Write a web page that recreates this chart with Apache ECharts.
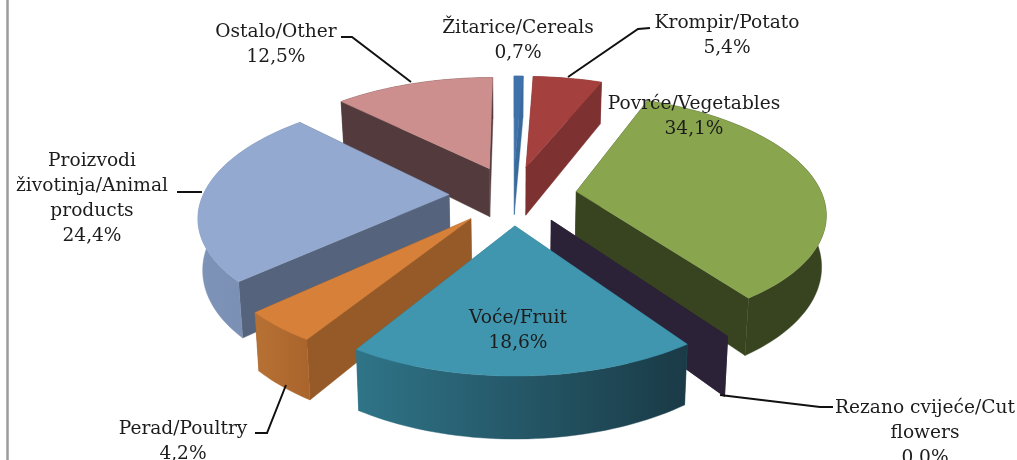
<!DOCTYPE html>
<html>
<head>
<meta charset="utf-8">
<style>html,body{margin:0;padding:0;background:#fff}#c{width:1017px;height:460px}</style>
<script src="https://cdn.jsdelivr.net/npm/echarts@6/dist/echarts.min.js"></script>
</head>
<body>
<div id="c"></div>
<script>
var categories = ['Žitarice/Cereals','Krompir/Potato','Povrće/Vegetables','Rezano cvijeće/Cut\nflowers','Voće/Fruit','Perad/Poultry','Proizvodi\nživotinja/Animal\nproducts','Ostalo/Other'];
var shares = [0.7,5.4,34.1,0.0,18.6,4.2,24.4,12.5];
var valueLabels = ['0,7%','5,4%','34,1%','0,0%','18,6%','4,2%','24,4%','12,5%'];

// back-to-front painting rank of each slice
var paintRank = [1,2,4,5,7,6,3,0];
var topColors = ['#3f72ab','#a4403e','#89a54e','#2c2238','#3f96ae','#d6803a','#93a9cf','#cd8f8e'];
var sideColors = ['#386a9c','#7d3130','#384420','#2c2238','#2f7285','#955a28','#55637c','#533b3d'];
var rimStart = ['#386a9c','#7d3130','#384420','#2c2238','#2f7488','#b87134','#7d93b8','#533b3d'];
var rimEnd = ['#386a9c','#7d3130','#384420','#2c2238','#1a3a46','#a9642c','#788cae','#533b3d'];
var labelCentres = [[518,28],[727,23],[694,104],[925,408],[518,318],[183,429],[92,161],[276,32]];
var leaderLines = [null,[[650,28],[638,29],[568,77]],null,[[833,407],[820,407],[720,395]],null,[[255,433],[267,433],[286,385]],[[177,192],[202,192]],[[341,37],[352,37],[411,82]]];

var view = {x0:513,y0:195,rx:246,ry:114,p:0.164,depth:50,taper:0.015,explode:0.26};
var total = shares.reduce(function(a,b){return a+b;},0);

function project(u,v,d){
  var f = 1/(1-view.p*v);
  return [view.x0+view.rx*u*f*(1-view.taper*d), view.y0+f*(view.ry*v+view.depth*d)];
}
function rad(a){return a*Math.PI/180;}

function renderItem(params,api){
  var i = params.dataIndex, before = 0;
  for(var k=0;k<i;k++) before += shares[k];
  var a0 = before/total*360, a1 = (before+api.value(0))/total*360, mid=(a0+a1)/2;
  var ex = view.explode*Math.sin(rad(mid)), ey = -view.explode*Math.cos(rad(mid));
  function pt(a,r,d){return project(ex+r*Math.sin(rad(a)), ey-r*Math.cos(rad(a)), d);}
  var base = paintRank[i]*10, children = [];
  function poly(points,fill,z){
    children.push({type:'polygon',z2:base+z,shape:{points:points},style:{fill:fill,stroke:fill,lineWidth:0.4}});
  }
  var topArc=[], lowArc=[], n=Math.max(2,Math.ceil((a1-a0)/1.5));
  for(var s=0;s<=n;s++){
    var a=a0+(a1-a0)*s/n;
    topArc.push(pt(a,1,0)); lowArc.push(pt(a,1,1));
  }
  var apexT=pt(a0,0,0), apexB=pt(a0,0,1);
  poly([apexT,pt(a0,1,0),pt(a0,1,1),apexB],sideColors[i],1);
  poly([apexT,pt(a1,1,0),pt(a1,1,1),apexB],sideColors[i],1);
  poly(topArc.concat(lowArc.slice().reverse()),
    {type:'linear',x:0,y:0,x2:1,y2:0,colorStops:[{offset:0,color:rimStart[i]},{offset:1,color:rimEnd[i]}]},2);
  if(a1>a0) poly([apexT].concat(topArc),topColors[i],3);

  var c = labelCentres[i];
  var lineCount = categories[i].split('\n').length+1;
  children.push({type:'text',z2:200,style:{
    x:c[0],y:c[1]-12.5+lineCount*12.5,text:categories[i]+'\n'+valueLabels[i],
    font:'18.6px "DejaVu Serif"',lineHeight:25,fill:'#1c1c1c',
    align:'center',verticalAlign:'middle'}});
  if(leaderLines[i]) children.push({type:'polyline',z2:190,shape:{points:leaderLines[i]},
    style:{fill:null,stroke:'#111',lineWidth:2}});
  return {type:'group',children:children};
}

var chart = echarts.init(document.getElementById('c'),null,{renderer:'canvas'});
chart.setOption({
  animation:false,
  backgroundColor:'#fff',
  graphic:[{type:'line',silent:true,shape:{x1:7.5,y1:0,x2:7.5,y2:460},style:{stroke:'#9c9c9c',lineWidth:2.5}}],
  series:[{type:'custom',coordinateSystem:'none',silent:true,clip:false,data:shares.map(function(v){return [v];}),renderItem:renderItem}]
});
</script>
</body>
</html>
